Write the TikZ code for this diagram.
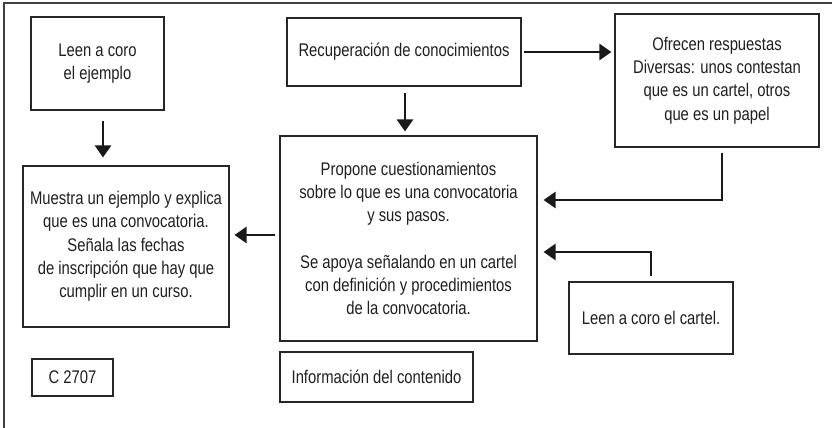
\documentclass[tikz,border=0pt]{standalone}
\usepackage{fontspec}
\setmainfont[FakeStretch=0.81]{Liberation Sans}
\usetikzlibrary{arrows.meta,calc}
\begin{document}
\begin{tikzpicture}[x=1pt,y=-1pt,
  box/.style={draw=black!85,line width=1.1pt,inner sep=0pt,align=center,
    text=black!88,font=\fontsize{18.3}{23.3}\selectfont},
  arr/.style={draw=black!90,line width=2.6pt,-{Triangle[length=12pt,width=16pt]}},
  frame/.style={draw=black!75,line width=1.2pt}]
\useasboundingbox (0,0) rectangle (832,428);
\draw[frame] (4,428) -- (4,3) -- (832,3);

\node[box,minimum width=133pt,minimum height=93pt] (leen1) at (97.5,63.5) {Leen a coro\\el ejemplo};
\node[box,minimum width=206pt,minimum height=161pt] (muestra) at (126,246.5)
  {Muestra un ejemplo y explica\\que es una convocatoria.\\Señala las fechas\\de inscripción que hay que\\cumplir en un curso.};
\node[box,minimum width=81pt,minimum height=37pt] (code) at (72.5,377.5) {C 2707};
\node[box,minimum width=234pt,minimum height=68pt] (recup) at (404,52) {Recuperación de conocimientos};
\node[box,minimum width=204pt,minimum height=133pt] (ofrecen) at (717,80.5)
  {Ofrecen respuestas\\Diversas: unos contestan\\que es un cartel, otros\\que es un papel};
\node[box,minimum width=257pt,minimum height=205pt] (propone) at (408.5,238.5)
  {Propone cuestionamientos\\sobre lo que es una convocatoria\\y sus pasos.\\[23.3pt]Se apoya señalando en un cartel\\con definición y procedimientos\\de la convocatoria.};
\node[box,minimum width=193pt,minimum height=50pt] (info) at (376.5,377) {Información del contenido};
\node[box,minimum width=164pt,minimum height=72pt] (cartel) at (651,318) {Leen a coro el cartel.};

\draw[arr] ($(leen1.south)+(5.5,10)$) -- ($(leen1.south |- muestra.north)+(5.5,-8)$);
\draw[arr] ($(recup.south)+(1,6)$) -- ($(recup.south |- propone.north)+(1,-4)$);
\draw[arr] ($(recup.east)+(2,0)$) -- ($(recup.east -| ofrecen.west)+(-3,0)$);
\draw[arr] ($(propone.west)+(-4,-3.5)$) -- ($(propone.west -| muestra.east)+(5,-3.5)$);
\draw[arr] ($(ofrecen.south)+(5,5)$) |- ($(propone.east)+(6,-38.5)$);
\draw[arr] ($(cartel.north)+(0,-5)$) |- ($(propone.east)+(6,13.5)$);
\end{tikzpicture}
\end{document}
